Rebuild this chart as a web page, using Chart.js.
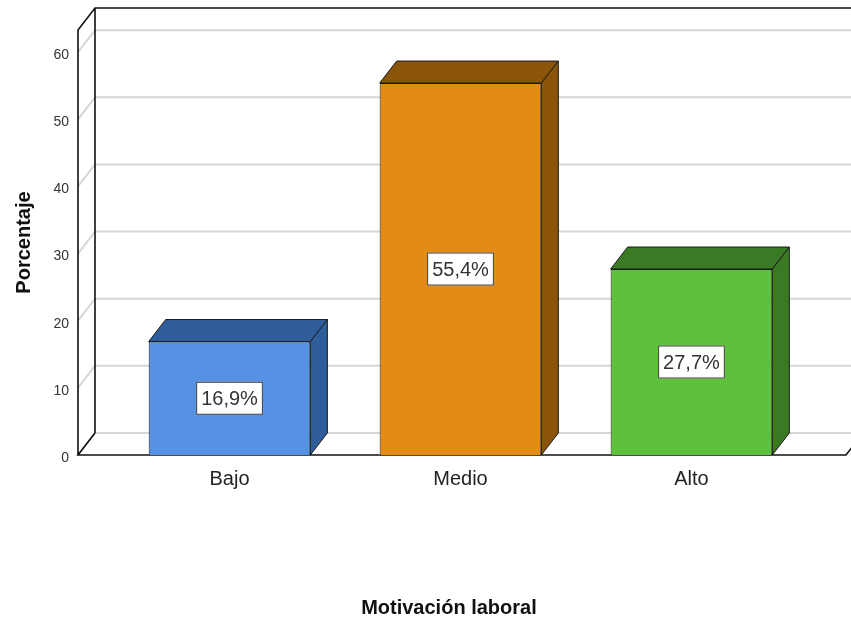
<!DOCTYPE html>
<html>
<head>
<title>Motivacion laboral</title>
<script src="https://cdn.jsdelivr.net/npm/chart.js@4.4.1/dist/chart.umd.min.js"></script>
<style>
    html, body { margin:0; padding:0; background:#fff; }
</style>
</head>
<body>
<canvas id="grafico" width="851" height="622"></canvas>
<script>
// datos
const categorias = ['Bajo', 'Medio', 'Alto'];
const porcentajes = [16.9, 55.4, 27.7];
const etiquetas = ['16,9%', '55,4%', '27,7%'];
const ticksY = [0, 10, 20, 30, 40, 50, 60];
const tituloX = 'Motivación laboral';

// colores
const coloresFrente = ['#5592e3', '#e38b12', '#5dc13b'];
const coloresLado = ['#2f5d99', '#8a5508', '#3a7a25'];

const DX = 17, DY = 22; // profundidad 3D
const fuente = 'Arial, "Liberation Sans", sans-serif';
Chart.defaults.font.family = fuente;

// paredes, suelo y lineas de cuadricula
const marco = {
    id: 'marco',
    beforeDatasetsDraw(chart) {
        const ctx = chart.ctx, a = chart.chartArea, y = chart.scales.y;
        ctx.save();
        ctx.strokeStyle = '#d6d6d6';
        ctx.lineWidth = 2;
        ticksY.forEach(v => {
            const py = y.getPixelForValue(v);
            ctx.beginPath();
            ctx.moveTo(a.left, py);
            ctx.lineTo(a.left + DX, py - DY);
            ctx.lineTo(a.right + DX, py - DY);
            ctx.stroke();
        });
        ctx.strokeStyle = '#111';
        ctx.lineWidth = 1.6;
        ctx.beginPath();
        ctx.moveTo(a.left, a.bottom);
        ctx.lineTo(a.left, a.top);
        ctx.lineTo(a.left + DX, a.top - DY);
        ctx.lineTo(a.right + DX + 5, a.top - DY);
        ctx.moveTo(a.left + DX, a.top - DY);
        ctx.lineTo(a.left + DX, a.bottom - DY);
        ctx.moveTo(a.left + DX, a.bottom - DY);
        ctx.lineTo(a.left, a.bottom);
        ctx.lineTo(a.right, a.bottom);
        ctx.lineTo(a.right + DX, a.bottom - DY);
        ctx.stroke();
        ctx.restore();
    },
    afterDraw(chart) {
        // titulo del eje x (algo desplazado a la izquierda como en SPSS)
        const ctx = chart.ctx, x = chart.scales.x;
        ctx.save();
        ctx.font = 'bold 20px ' + fuente;
        ctx.fillStyle = '#111';
        ctx.textAlign = 'center';
        ctx.textBaseline = 'middle';
        ctx.fillText(tituloX, x.getPixelForValue(0.95), 608);
        ctx.restore();
    }
};

// caras superior y lateral de las barras + etiquetas
const caras = {
    id: 'caras',
    afterDatasetsDraw(chart) {
        const ctx = chart.ctx;
        chart.getDatasetMeta(0).data.forEach((bar, i) => {
            const p = bar.getProps(['x', 'y', 'base', 'width'], true);
            const x0 = p.x - p.width / 2, x1 = p.x + p.width / 2;
            ctx.save();
            ctx.fillStyle = coloresLado[i];
            ctx.strokeStyle = '#1a1a1a';
            ctx.lineWidth = 1;
            ctx.beginPath();
            ctx.moveTo(x0, p.y);
            ctx.lineTo(x0 + DX, p.y - DY);
            ctx.lineTo(x1 + DX, p.y - DY);
            ctx.lineTo(x1, p.y);
            ctx.closePath();
            ctx.fill(); ctx.stroke();
            ctx.beginPath();
            ctx.moveTo(x1, p.y);
            ctx.lineTo(x1 + DX, p.y - DY);
            ctx.lineTo(x1 + DX, p.base - DY);
            ctx.lineTo(x1, p.base);
            ctx.closePath();
            ctx.fill(); ctx.stroke();

            // etiqueta
            ctx.font = '20px ' + fuente;
            const tw = ctx.measureText(etiquetas[i]).width;
            const cy = (p.y + p.base) / 2;
            const w = tw + 10, h = 33;
            ctx.fillStyle = '#fff';
            ctx.strokeStyle = '#3a3a3a';
            ctx.fillRect(p.x - w / 2, cy - h / 2, w, h);
            ctx.strokeRect(p.x - w / 2 + 0.5, cy - h / 2 + 0.5, w - 1, h - 1);
            ctx.fillStyle = '#333';
            ctx.textAlign = 'center';
            ctx.textBaseline = 'middle';
            ctx.fillText(etiquetas[i], p.x, cy + 1);
            ctx.restore();
        });
    }
};

new Chart(document.getElementById('grafico'), {
    type: 'bar',
    data: {
        datasets: [{
            data: porcentajes.map((v, i) => ({ x: i, y: v })),
            backgroundColor: coloresFrente,
            borderColor: '#1a1a1a',
            borderWidth: 1,
            barPercentage: 0.7,
            categoryPercentage: 1
        }]
    },
    options: {
        responsive: false,
        animation: false,
        layout: { padding: { top: 30, right: 5, left: 0, bottom: 0 } },
        plugins: { legend: { display: false }, tooltip: { enabled: false } },
        scales: {
            x: {
                type: 'linear',
                offset: false,
                min: -0.656,
                max: 2.669,
                grid: { display: false, drawTicks: false, offset: false },
                border: { display: false },
                afterBuildTicks: s => { s.ticks = categorias.map((c, i) => ({ value: i })); },
                ticks: {
                    callback: v => categorias[v],
                    padding: 12,
                    autoSkip: false,
                    maxRotation: 0,
                    color: '#222',
                    font: { size: 20 }
                },
                title: { display: false },
                afterFit: s => { s.height = 167; }
            },
            y: {
                min: 0,
                max: 63.3,
                grid: { display: false, drawTicks: false },
                border: { display: false },
                ticks: {
                    stepSize: 10,
                    includeBounds: false,
                    padding: 9,
                    labelOffset: 3,
                    color: '#333',
                    font: { size: 14 }
                },
                title: {
                    display: true,
                    text: 'Porcentaje',
                    color: '#111',
                    font: { size: 20, weight: 'bold' },
                    padding: { top: 12, bottom: 0 }
                },
                afterFit: s => { s.width = 78; }
            }
        }
    },
    plugins: [marco, caras]
});
</script>
</body>
</html>
